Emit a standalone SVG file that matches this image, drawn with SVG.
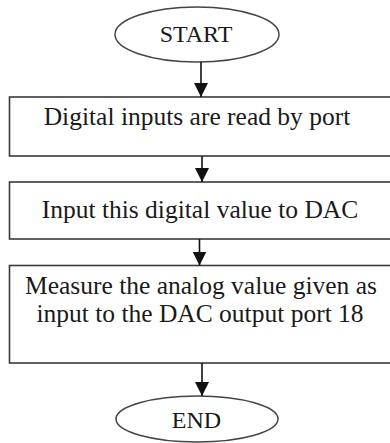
<svg xmlns="http://www.w3.org/2000/svg" width="390" height="443" viewBox="0 0 390 443">
  <style>
    .term { fill: #ffffff; stroke: #444444; stroke-width: 1.5; }
    .box { fill: #ffffff; stroke: #3a3a3a; stroke-width: 1.6; }
    .lbl { font-family: "Liberation Serif", "Times New Roman", serif; font-size: 25.5px; fill: #1a1a1a; text-anchor: middle; }
    .tlbl { font-family: "Liberation Serif", "Times New Roman", serif; font-size: 24px; fill: #1a1a1a; text-anchor: middle; }
    .conn { stroke: #111111; stroke-width: 1.6; fill: none; marker-end: url(#arrow); }
  </style>
  <defs>
    <marker id="arrow" markerUnits="userSpaceOnUse" markerWidth="14" markerHeight="14" refX="14" refY="7" orient="auto">
      <path d="M0,0 L14,7 L0,14 Z" fill="#111111"/>
    </marker>
  </defs>
  <rect width="390" height="443" fill="#ffffff"/>

  <g id="start">
    <ellipse class="term" cx="197" cy="34.5" rx="82" ry="27.5"/>
    <text class="tlbl" x="196" y="42">START</text>
  </g>

  <g id="step1">
    <rect class="box" x="9.5" y="97" width="384" height="59"/>
    <text class="lbl" x="197" y="125">Digital inputs are read by port</text>
  </g>

  <g id="step2">
    <rect class="box" x="9.5" y="182" width="384" height="57"/>
    <text class="lbl" x="200" y="218">Input this digital value to DAC</text>
  </g>

  <g id="step3">
    <rect class="box" x="9.5" y="265.5" width="384" height="97.5"/>
    <text class="lbl" x="201" y="294">Measure the analog value given as</text>
    <text class="lbl" x="200" y="322">input to the DAC output port 18</text>
  </g>

  <g id="end">
    <ellipse class="term" cx="197" cy="419" rx="81" ry="23"/>
    <text class="tlbl" x="196.5" y="428">END</text>
  </g>

  <g id="connectors">
    <line class="conn" x1="201" y1="62" x2="201" y2="97"/>
    <line class="conn" x1="202" y1="156" x2="202" y2="182"/>
    <line class="conn" x1="199.5" y1="239" x2="199.5" y2="265.5"/>
    <line class="conn" x1="202" y1="363" x2="202" y2="396"/>
  </g>
</svg>
